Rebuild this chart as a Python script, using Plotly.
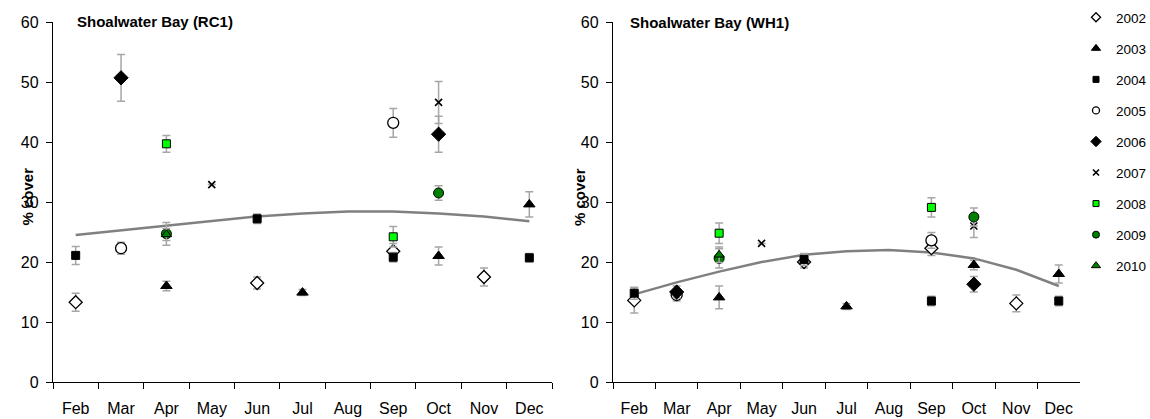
import plotly.graph_objects as go

months = ["Feb", "Mar", "Apr", "May", "Jun", "Jul", "Aug", "Sep", "Oct", "Nov", "Dec"]
years = ["2002", "2003", "2004", "2005", "2006", "2007", "2008", "2009", "2010"]
N = None

# ---- Shoalwater Bay (RC1) ----  (Feb..Dec)
rc1_2002 = [13.3, N, N, N, 16.5, N, N, 21.8, N, 17.5, N]
rc1_2002_se = [1.5, N, N, N, 1.0, N, N, 1.3, N, 1.5, N]
rc1_2003 = [N, N, 16.0, N, N, 14.9, N, N, 21.0, N, 29.6]
rc1_2003_se = [N, N, 0.8, N, N, 0.5, N, N, 1.5, N, 2.1]
rc1_2004 = [21.1, N, N, N, 27.2, N, N, 20.8, N, N, 20.7]
rc1_2004_se = [1.5, N, N, N, 0.8, N, N, 0.8, N, N, 0.7]
rc1_2005 = [N, 22.3, N, N, N, N, N, 43.2, N, N, N]
rc1_2005_se = [N, 1.0, N, N, N, N, N, 2.4, N, N, N]
rc1_2006 = [N, 50.7, N, N, N, N, N, N, 41.3, N, N]
rc1_2006_se = [N, 3.9, N, N, N, N, N, N, 3.0, N, N]
rc1_2007 = [N, N, N, 32.9, N, N, N, N, 46.6, N, N]
rc1_2007_se = [N, N, N, 0, N, N, N, N, 3.5, N, N]
rc1_2008 = [N, N, 39.7, N, N, N, N, 24.2, N, N, N]
rc1_2008_se = [N, N, 1.4, N, N, N, N, 1.7, N, N, N]
rc1_2009 = [N, N, 24.7, N, N, N, N, N, 31.5, N, N]
rc1_2009_se = [N, N, 1.9, N, N, N, N, N, 1.2, N, N]
rc1_2010 = [N, N, 24.6, N, N, N, N, N, N, N, N]
rc1_2010_se = [N, N, 1.0, N, N, N, N, N, N, N, N]
rc1_trend = [24.5, 25.3, 26.1, 26.9, 27.6, 28.1, 28.4, 28.4, 28.1, 27.6, 26.8]

# ---- Shoalwater Bay (WH1) ----
wh1_2002 = [13.6, N, N, N, 20.0, N, N, 22.3, N, 13.1, N]
wh1_2002_se = [2.1, N, N, N, 1.0, N, N, 1.2, N, 1.4, N]
wh1_2003 = [N, N, 14.1, N, N, 12.6, N, N, 19.5, N, 18.0]
wh1_2003_se = [N, N, 1.9, N, N, 0.5, N, N, 0.8, N, 1.5]
wh1_2004 = [14.8, N, N, N, 20.4, N, N, 13.5, N, N, 13.5]
wh1_2004_se = [1.0, N, N, N, 1.0, N, N, 0.8, N, N, 0.8]
wh1_2005 = [N, 14.5, N, N, N, N, N, 23.6, N, N, N]
wh1_2005_se = [N, 1.0, N, N, N, N, N, 1.3, N, N, N]
wh1_2006 = [N, 15.0, N, N, N, N, N, N, 16.3, N, N]
wh1_2006_se = [N, 1.0, N, N, N, N, N, N, 1.3, N, N]
wh1_2007 = [N, N, N, 23.1, N, N, N, N, 26.0, N, N]
wh1_2007_se = [N, N, N, 0, N, N, N, N, 1.9, N, N]
wh1_2008 = [N, N, 24.8, N, N, N, N, 29.1, N, N, N]
wh1_2008_se = [N, N, 1.7, N, N, N, N, 1.6, N, N, N]
wh1_2009 = [N, N, 20.6, N, N, N, N, N, 27.5, N, N]
wh1_2009_se = [N, N, 1.6, N, N, N, N, N, 1.5, N, N]
wh1_2010 = [N, N, 21.2, N, N, N, N, N, N, N, N]
wh1_2010_se = [N, N, 1.3, N, N, N, N, N, N, N, N]
wh1_trend = [14.6, 16.6, 18.4, 20.0, 21.2, 21.8, 22.0, 21.6, 20.6, 18.7, 16.0]

rc1 = [(rc1_2002, rc1_2002_se), (rc1_2003, rc1_2003_se), (rc1_2004, rc1_2004_se),
       (rc1_2005, rc1_2005_se), (rc1_2006, rc1_2006_se), (rc1_2007, rc1_2007_se),
       (rc1_2008, rc1_2008_se), (rc1_2009, rc1_2009_se), (rc1_2010, rc1_2010_se)]
wh1 = [(wh1_2002, wh1_2002_se), (wh1_2003, wh1_2003_se), (wh1_2004, wh1_2004_se),
       (wh1_2005, wh1_2005_se), (wh1_2006, wh1_2006_se), (wh1_2007, wh1_2007_se),
       (wh1_2008, wh1_2008_se), (wh1_2009, wh1_2009_se), (wh1_2010, wh1_2010_se)]

# (symbol, fill, line width, plot size, legend size)
styles = [
    ("diamond", "white", 1.3, 10, 7),
    ("triangle-up", "black", 1, 10, 8),
    ("square", "black", 1, 8, 6),
    ("circle", "white", 1.3, 11, 7),
    ("diamond", "black", 1, 11, 8),
    ("x-thin", "black", 1.6, 7, 6),
    ("square", "#00ff00", 1, 8, 6),
    ("circle", "#008000", 1, 10, 7),
    ("triangle-up", "#008000", 1, 9, 8),
]

FONT = "Liberation Sans, Arial, sans-serif"
fig = go.Figure()

for panel, (data, trend, xa, ya) in enumerate([(rc1, rc1_trend, "x", "y"), (wh1, wh1_trend, "x2", "y2")]):
    fig.add_trace(go.Scatter(x=months, y=trend, mode="lines", xaxis=xa, yaxis=ya,
                             line=dict(color="#808080", width=2.5), showlegend=False, hoverinfo="skip"))
    for i, (vals, se) in enumerate(data):
        sym, fill, lw, sz, _ = styles[i]
        fig.add_trace(go.Scatter(
            x=months, y=vals, mode="markers", name=years[i], xaxis=xa, yaxis=ya,
            legendgroup=years[i], showlegend=False,
            marker=dict(symbol=sym, size=sz, color=fill, line=dict(color="black", width=lw)),
            error_y=dict(type="data", array=se, visible=True, color="#a6a6a6",
                         thickness=1.5, width=4),
        ))

# legend entries (smaller symbols, as in the reference legend)
for i, yr in enumerate(years):
    sym, fill, lw, _, lsz = styles[i]
    fig.add_trace(go.Scatter(
        x=[None], y=[None], mode="markers", name=yr, legendgroup=yr, xaxis="x2", yaxis="y2",
        marker=dict(symbol=sym, size=lsz, color=fill, line=dict(color="black", width=lw)),
    ))

axis_common = dict(showline=True, linecolor="black", linewidth=1.3, ticks="outside",
                   ticklen=6, tickcolor="black", showgrid=False, zeroline=False,
                   tickfont=dict(family=FONT, size=16, color="black"))

fig.update_layout(
    width=1150, height=419,
    margin=dict(l=0, r=0, t=22, b=37, autoexpand=False),
    paper_bgcolor="white", plot_bgcolor="white",
    font=dict(family=FONT, color="black"),
    xaxis=dict(domain=[53 / 1150, 552 / 1150], type="category", categoryorder="array",
               categoryarray=months, tickson="boundaries", range=[-0.5, 10.5],
               ticklabelstandoff=12, **axis_common),
    yaxis=dict(range=[0, 60], dtick=10, anchor="x", ticklabelstandoff=4, **axis_common),
    xaxis2=dict(domain=[613 / 1150, 1080 / 1150], type="category", categoryorder="array",
                categoryarray=months, tickson="boundaries", range=[-0.5, 10.5], anchor="y2",
                ticklabelstandoff=12, **axis_common),
    yaxis2=dict(range=[0, 60], dtick=10, anchor="x2", ticklabelstandoff=4, **axis_common),
    legend=dict(x=1076 / 1150, xanchor="left", yref="container", y=1 - 2 / 419, yanchor="top",
                font=dict(family=FONT, size=13.5, color="black"),
                tracegroupgap=10.5, bgcolor="rgba(0,0,0,0)", maxheight=419),
    showlegend=True,
    annotations=[
        dict(text="<b>Shoalwater Bay (RC1)</b>", x=75 / 1150, y=(382 - 21) / 360, xref="paper", yref="paper",
             xanchor="left", yanchor="middle", showarrow=False, font=dict(family=FONT, size=15)),
        dict(text="<b>Shoalwater Bay (WH1)</b>", x=628 / 1150, y=(382 - 23) / 360, xref="paper", yref="paper",
             xanchor="left", yanchor="middle", showarrow=False, font=dict(family=FONT, size=15)),
        dict(text="<b>% cover</b>", x=16 / 1150, y=(382 - 197) / 360, xref="paper", yref="paper",
             textangle=-90, showarrow=False, font=dict(family=FONT, size=15)),
        dict(text="<b>% cover</b>", x=579 / 1150, y=(382 - 197) / 360, xref="paper", yref="paper",
             textangle=-90, showarrow=False, font=dict(family=FONT, size=15)),
    ],
)

fig.write_html("out.html", config={"displayModeBar": False},
               post_script="document.body.style.margin='0px';document.body.style.overflow='hidden';")
